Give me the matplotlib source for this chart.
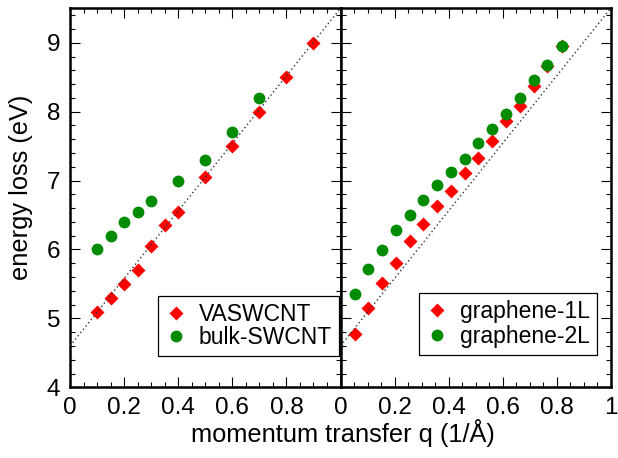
import matplotlib
matplotlib.use("Agg")
import matplotlib.pyplot as plt
from matplotlib.ticker import MultipleLocator, FixedLocator, FixedFormatter

plt.rcParams['font.family'] = ['Liberation Sans', 'DejaVu Sans']

# Left panel data
q_vas = [0.1, 0.15, 0.2, 0.25, 0.3, 0.35, 0.4, 0.5, 0.6, 0.7, 0.8, 0.9]
E_vas = [5.1, 5.3, 5.5, 5.7, 6.05, 6.35, 6.55, 7.05, 7.5, 8.0, 8.5, 9.0]
q_bulk = [0.1, 0.15, 0.2, 0.25, 0.3, 0.4, 0.5, 0.6, 0.7]
E_bulk = [6.0, 6.2, 6.4, 6.55, 6.7, 7.0, 7.3, 7.7, 8.2]

# Right panel data
q_gr = [0.053, 0.102, 0.155, 0.204, 0.257, 0.305, 0.357, 0.408,
        0.460, 0.510, 0.562, 0.613, 0.664, 0.716, 0.766, 0.818]
E_1L = [4.77, 5.15, 5.51, 5.81, 6.12, 6.37, 6.63, 6.85,
        7.11, 7.33, 7.58, 7.86, 8.08, 8.37, 8.66, 8.95]
E_2L = [5.35, 5.71, 5.99, 6.28, 6.50, 6.72, 6.93, 7.12,
        7.31, 7.55, 7.75, 7.96, 8.20, 8.46, 8.68, 8.95]

# Reference (dotted) line endpoints
line_q = [0.0, 1.0]
line_E = [4.6, 9.5]

xticks_left = [0, 0.2, 0.4, 0.6, 0.8, 1.0]
xlabels_left = ["0", "0.2", "0.4", "0.6", "0.8", ""]
xticks_right = [0, 0.2, 0.4, 0.6, 0.8, 1.0]
xlabels_right = ["0", "0.2", "0.4", "0.6", "0.8", "1"]
yticks = [4, 5, 6, 7, 8, 9]

RED = '#ff0000'
GREEN = '#008b00'

fig = plt.figure(figsize=(6.18, 4.58), dpi=100)
W, H = 618, 458
bottom = (H - 387.3) / H
height = 379.0 / H
axL = fig.add_axes([70 / W, bottom, 270.5 / W, height])
axR = fig.add_axes([340.5 / W, bottom, 270.2 / W, height])

for ax in (axL, axR):
    ax.set_xlim(0, 1)
    ax.set_ylim(4, 9.5)
    ax.plot(line_q, line_E, linestyle=(0, (1, 2)), color='#333333', lw=1.0, zorder=5)
    ax.xaxis.set_minor_locator(MultipleLocator(0.05))
    ax.yaxis.set_major_locator(FixedLocator(yticks))
    ax.yaxis.set_minor_locator(MultipleLocator(0.2))
    ax.tick_params(which='both', direction='in', top=True, right=True, width=0.8)
    ax.tick_params(which='major', length=7.2, labelsize=17.5, pad=7)
    ax.tick_params(which='minor', length=3.6)
    for s in ax.spines.values():
        s.set_linewidth(1.8)

axL.plot(q_vas, E_vas, linestyle='none', marker='D', ms=6.8, mec='none', color=RED, label='VASWCNT', zorder=3)
axL.plot(q_bulk, E_bulk, linestyle='none', marker='o', ms=8.5, mec='none', color=GREEN, label='bulk-SWCNT', zorder=3)
axL.xaxis.set_major_locator(FixedLocator(xticks_left))
axL.xaxis.set_major_formatter(FixedFormatter(xlabels_left))
axL.set_yticklabels([str(v) for v in yticks])

axR.plot(q_gr, E_1L, linestyle='none', marker='D', ms=6.8, mec='none', color=RED, label='graphene-1L', zorder=3)
axR.plot(q_gr, E_2L, linestyle='none', marker='o', ms=8.5, mec='none', color=GREEN, label='graphene-2L', zorder=4)
axR.xaxis.set_major_locator(FixedLocator(xticks_right))
axR.xaxis.set_major_formatter(FixedFormatter(xlabels_right))
axR.set_yticklabels([])

legkw = dict(fontsize=16.5, frameon=True, fancybox=False, shadow=False,
             handlelength=1.0, handletextpad=0.5, borderpad=0.3,
             borderaxespad=0, numpoints=1, framealpha=1)
legL = axL.legend(loc='lower right', bbox_to_anchor=((339 - 70) / 270.5, (387.3 - 356) / 379.0),
                  labelspacing=0.0, **legkw)
legR = axR.legend(loc='lower right', bbox_to_anchor=((597 - 340.5) / 270.2, (387.3 - 355.3) / 379.0),
                  labelspacing=0.1, **legkw)
for leg in (legL, legR):
    fr = leg.get_frame()
    fr.set_edgecolor('black')
    fr.set_linewidth(0.9)

fig.text(21 / W, 1 - 187 / H, 'energy loss (eV)', rotation=90, ha='center', va='center', fontsize=18.3)
fig.text(343 / W, 1 - 433 / H, 'momentum transfer q (1/Å)', ha='center', va='center', fontsize=18.3)

fig.savefig('out.png', dpi=100)
